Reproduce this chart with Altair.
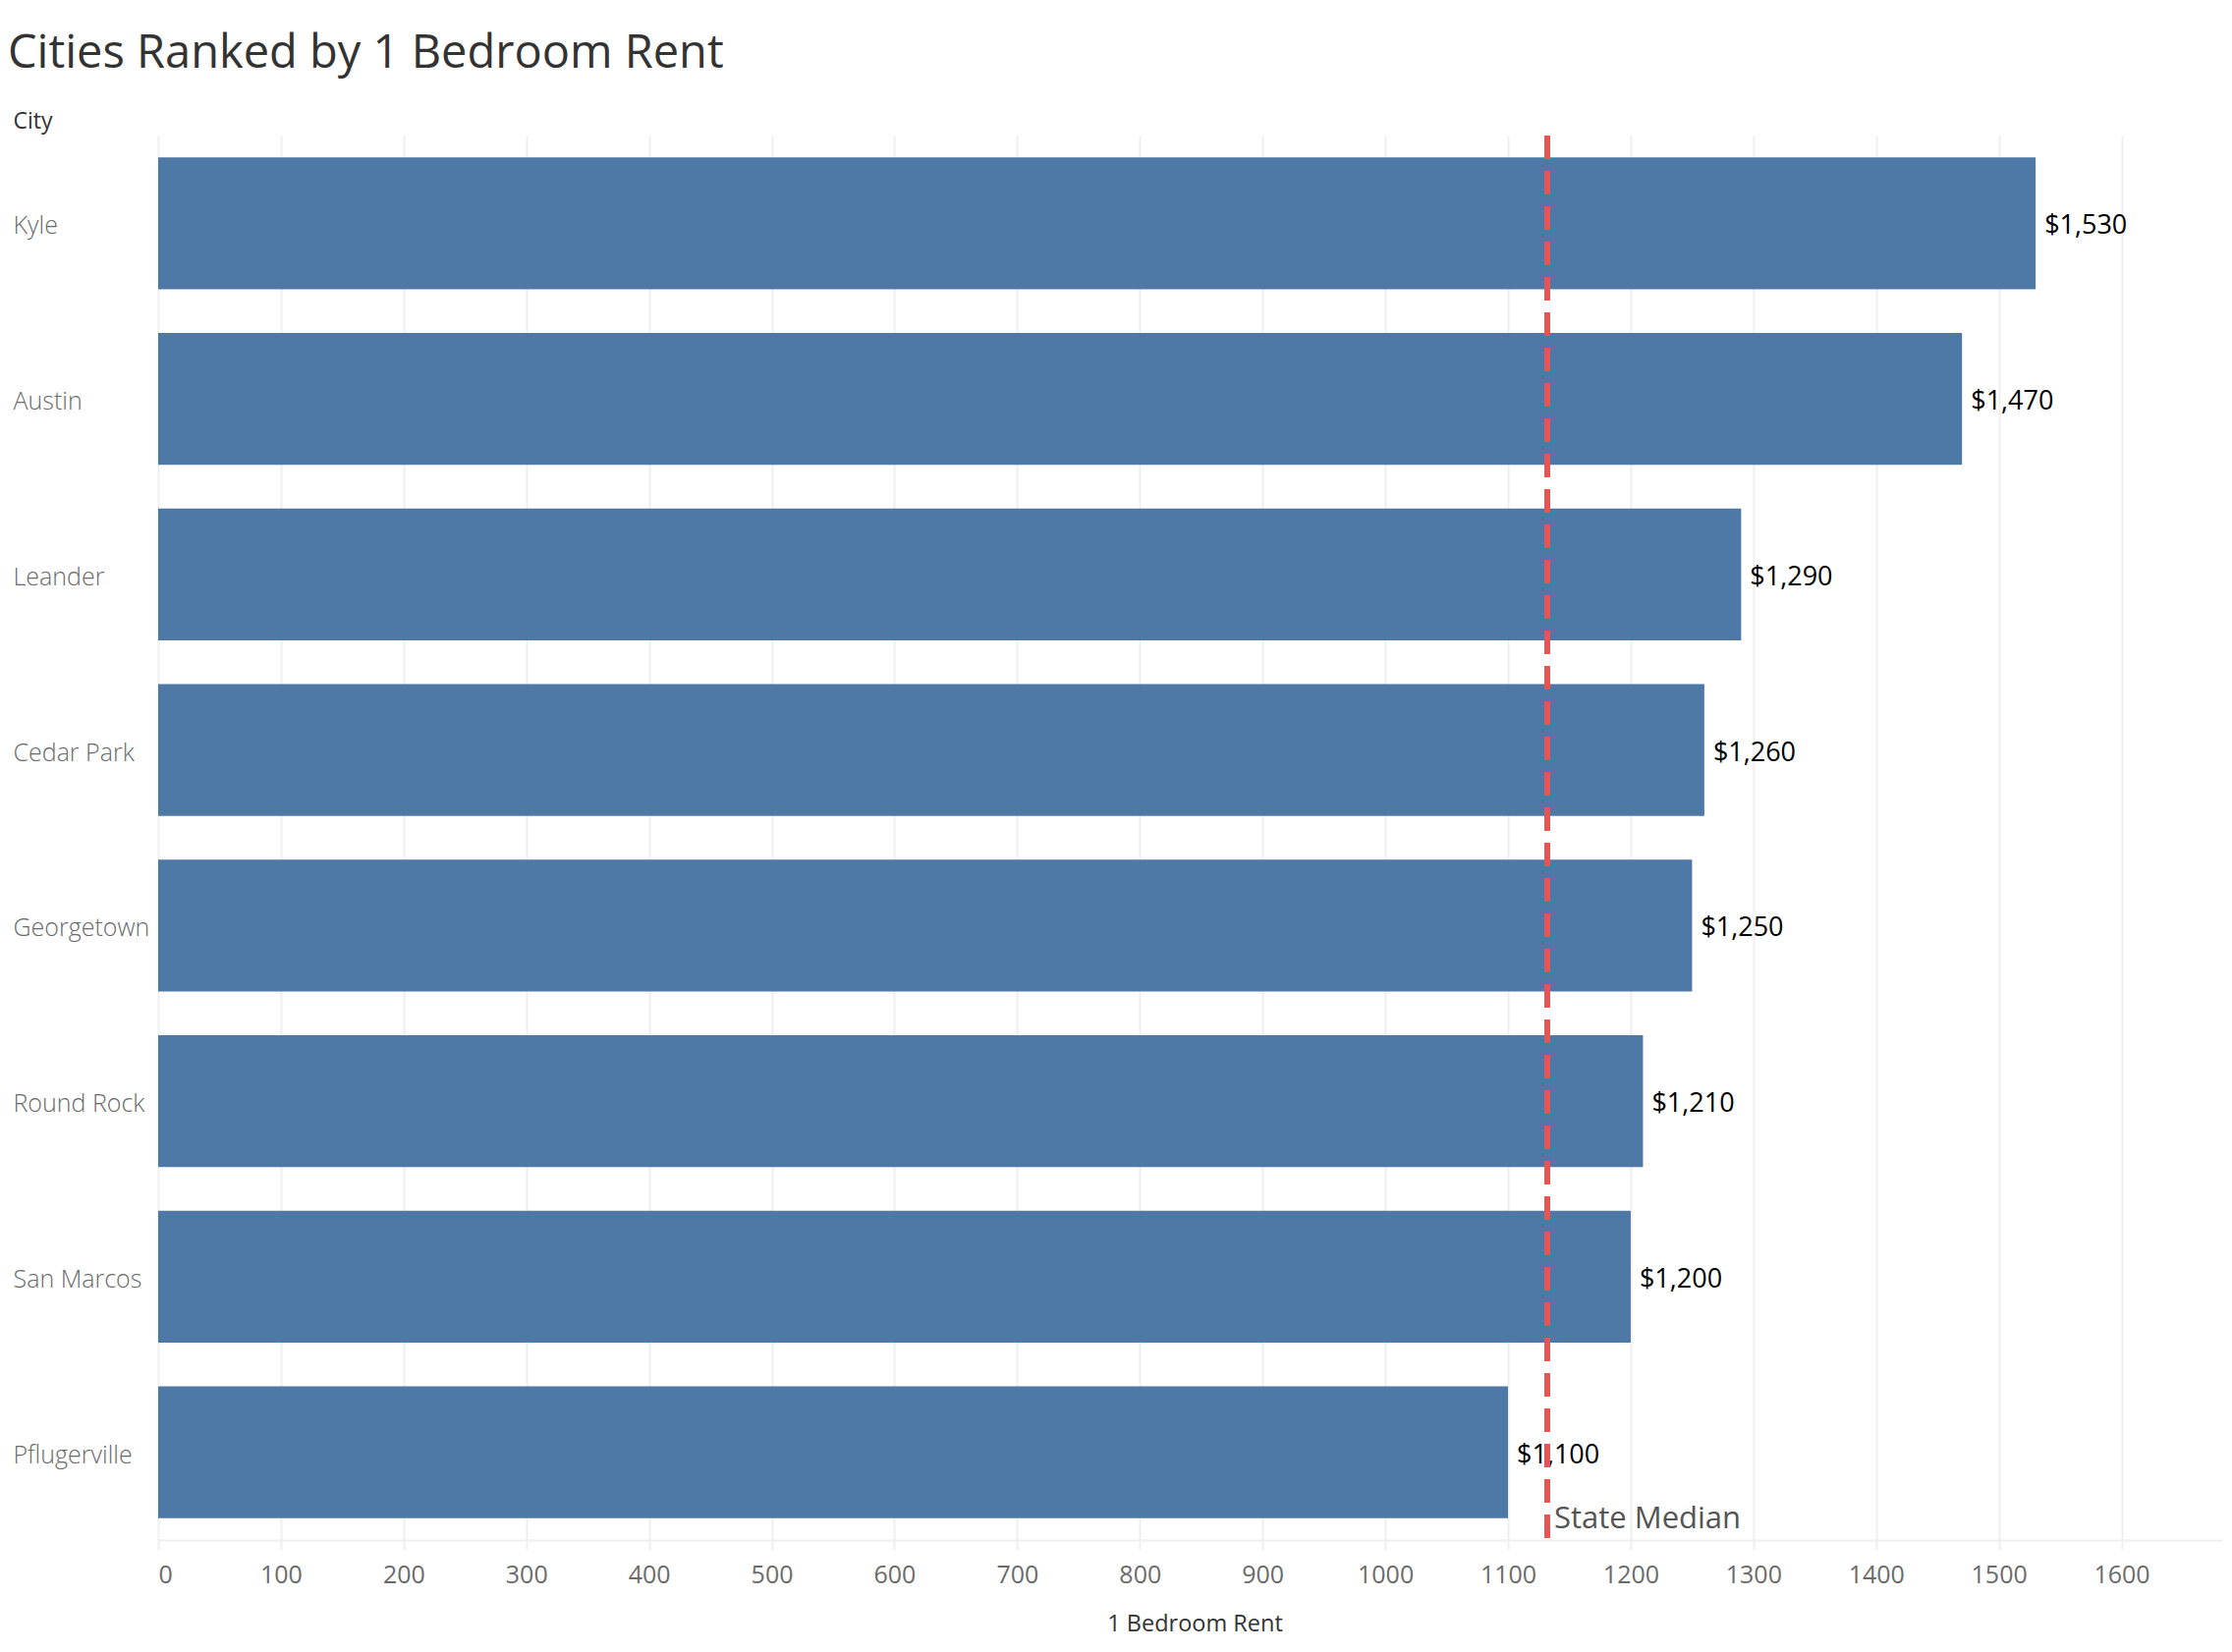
import altair as alt
import pandas as pd

# ---- data ----
cities = ["Kyle", "Austin", "Leander", "Cedar Park", "Georgetown",
          "Round Rock", "San Marcos", "Pflugerville"]
rents = [1530, 1470, 1290, 1260, 1250, 1210, 1200, 1100]
state_median = [1132]
median_label = ["State Median"]
x_ticks = [0, 100, 200, 300, 400, 500, 600, 700, 800, 900,
           1000, 1100, 1200, 1300, 1400, 1500, 1600]

title_text = "Cities Ranked by 1 Bedroom Rent"
x_title = "1 Bedroom Rent"
y_title = "City"

df = pd.DataFrame({"city": cities, "rent": rents})
med_df = pd.DataFrame({"rent": state_median, "label": median_label})

FONT = "Open Sans"
W, H = 2101, 1430

x_enc = alt.X(
    "rent:Q",
    scale=alt.Scale(domain=[0, 1682], nice=False, zero=True),
    axis=alt.Axis(
        title=x_title,
        values=x_ticks,
        format="d",
        grid=True,
        gridColor="#efefef",
        gridWidth=2,
        domain=True,
        domainColor="#efefef",
        domainWidth=2,
        ticks=True,
        tickColor="#efefef",
        tickWidth=2,
        tickSize=10,
        labelFont=FONT,
        labelFontSize=25,
        labelColor="#6b6b6b",
        labelPadding=13,
        labelFlush=True,
        titleFont=FONT,
        titleFontSize=23.5,
        titleFontWeight="normal",
        titleColor="#333333",
        titleBaseline="alphabetic",
        titleY=92,
        titleX=1055,
    ),
)

y_enc = alt.Y(
    "city:N",
    sort=cities,
    scale=alt.Scale(paddingInner=0.25, paddingOuter=0.125),
    axis=alt.Axis(
        title=y_title,
        grid=False,
        domain=False,
        ticks=False,
        labelAlign="left",
        labelBaseline="middle",
        labelPadding=148,
        labelOffset=3,
        labelFont=FONT,
        labelFontSize=25,
        labelFontWeight=300,
        labelColor="#6a6a6a",
        titleFont=FONT,
        titleFontSize=23,
        titleFontWeight="normal",
        titleColor="#333333",
        titleAngle=0,
        titleAlign="left",
        titleBaseline="alphabetic",
        titleX=-148,
        titleY=-8,
    ),
)

bars = alt.Chart(df).mark_bar(color="#4e79a7").encode(x=x_enc, y=y_enc)

labels = alt.Chart(df).mark_text(
    align="left", baseline="middle", dx=9, dy=3, font=FONT, fontSize=27, color="#000000"
).encode(x=x_enc, y=y_enc, text=alt.Text("rent:Q", format="$,.0f"))

rule = alt.Chart(med_df).mark_rule(
    color="#e15759", strokeWidth=6, strokeDash=[24, 12]
).encode(x=x_enc, y=alt.value(0), y2=alt.value(H))

med_text = alt.Chart(med_df).mark_text(
    align="left", baseline="alphabetic", dx=7, font=FONT, fontSize=31, color="#555555"
).encode(x=x_enc, y=alt.value(1418), text="label:N")

chart = (
    alt.layer(bars, labels, rule, med_text)
    .properties(
        width=W,
        height=H,
        view=alt.ViewBackground(stroke="transparent", strokeWidth=0),
        title=alt.TitleParams(
            text=title_text,
            font=FONT,
            fontSize=47,
            fontWeight="normal",
            color="#333333",
            anchor="start",
            frame="group",
            baseline="alphabetic",
            dx=-153,
            dy=50,
            offset=46,
        ),
        autosize=alt.AutoSizeParams(type="none"),
        padding={"left": 153, "top": 130, "right": 2, "bottom": 100},
    )
    .configure_view(stroke="transparent", strokeWidth=0)
    .configure(background="white")
)

chart.save("out.html", embed_options={"renderer": "svg", "actions": False})
